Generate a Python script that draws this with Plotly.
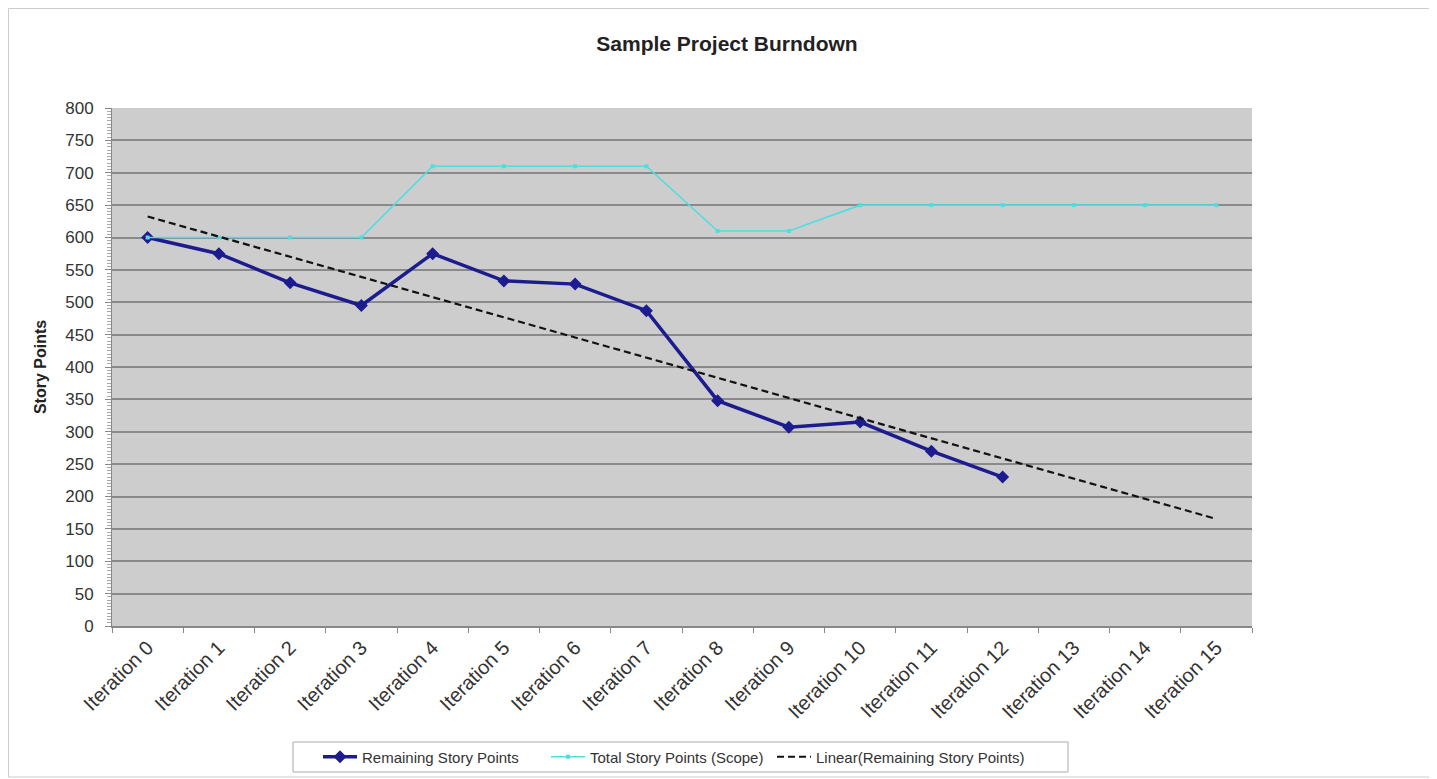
import numpy as np
import plotly.graph_objects as go

categories = [f"Iteration {i}" for i in range(16)]
remaining = [600, 575, 530, 495, 575, 533, 528, 487, 348, 307, 315, 270, 230]
total_scope = [600, 600, 600, 600, 710, 710, 710, 710, 610, 610, 650, 650, 650, 650, 650, 650]
y_ticks = list(range(0, 801, 50))

# linear trendline of remaining story points, extended to all iterations
xi = np.arange(len(remaining))
slope, intercept = np.polyfit(xi, remaining, 1)
trend = [intercept + slope * i for i in range(len(categories))]

W, H = 1429, 771
L, T, PW, PH = 104, 100, 1140, 518
OFF = 8  # page body margin


def px_x(ax):
    return (ax - OFF - L) / PW


def px_y(ay):
    return (T + PH - (ay - OFF)) / PH


fig = go.Figure()
fig.add_trace(go.Scatter(
    x=categories[:len(remaining)], y=remaining, mode="lines+markers",
    name="Remaining Story Points", legend="legend",
    line=dict(color="#1c1c8f", width=3.5),
    marker=dict(symbol="diamond", size=10, color="#1c1c8f"),
))
fig.add_trace(go.Scatter(
    x=categories, y=total_scope, mode="lines+markers",
    name="Total Story Points (Scope)", legend="legend2",
    line=dict(color="#4fdede", width=1.6),
    marker=dict(symbol="square", size=4, color="#4fdede"),
))
fig.add_trace(go.Scatter(
    x=categories, y=trend, mode="lines",
    name="Linear(Remaining Story Points)", legend="legend3",
    line=dict(color="#111111", width=2.2, dash="7px,4px"),
))

leg_common = dict(orientation="h", xanchor="left",
                  yref="container", y=1 - (757 - OFF) / H, yanchor="middle",
                  bgcolor="rgba(0,0,0,0)", borderwidth=0,
                  font=dict(size=15, color="#333333"), itemwidth=34)

fig.update_layout(
    width=W, height=H,
    margin=dict(l=L, r=W - L - PW, t=T, b=H - T - PH),
    paper_bgcolor="white",
    plot_bgcolor="#cdcdcd",
    font=dict(family="Arial, Liberation Sans, sans-serif", color="#333333"),
    title=dict(text="<b>Sample Project Burndown</b>", x=px_x(727), xanchor="center",
               xref="paper", y=1 - 36 / H, yanchor="middle",
               font=dict(size=21, color="#222222")),
    showlegend=True,
    legend=dict(x=px_x(318), **leg_common),
    legend2=dict(x=px_x(546), **leg_common),
    legend3=dict(x=px_x(772), **leg_common),
    shapes=[
        dict(type="rect", xref="paper", yref="paper",
             x0=-(L - 0.5) / PW, x1=(W - L + 10) / PW,
             y0=-(769 - T - PH) / PH, y1=1 + (T - 0.5) / PH,
             line=dict(color="#cccccc", width=1), layer="below"),
        dict(type="rect", xref="paper", yref="paper",
             x0=px_x(293), x1=px_x(1068), y0=px_y(772), y1=px_y(742),
             line=dict(color="#aaaaaa", width=1), fillcolor="white", layer="below"),
    ],
)

fig.update_xaxes(
    type="category", categoryorder="array", categoryarray=categories,
    range=[-0.5, 15.5], tickangle=-45, tickson="boundaries",
    ticks="outside", ticklen=5, tickcolor="#888888",
    showgrid=False, showline=True, linecolor="#888888", linewidth=2,
    tickfont=dict(size=20, color="#333333"), automargin=False,
)
fig.update_yaxes(
    range=[0, 800], tickvals=y_ticks, ticks="outside", ticklen=6, tickcolor="#888888",
    ticklabelstandoff=8,
    showgrid=True, gridcolor="#8a8a8a", gridwidth=2,
    showline=True, linecolor="#888888", linewidth=1, zeroline=False,
    tickfont=dict(size=17, color="#333333"), automargin=False,
    minor=dict(ticks="outside", ticklen=4, dtick=5, tickcolor="#aaaaaa", showgrid=False),
    title=dict(text="<b>Story Points</b>", font=dict(size=16, color="#222222"), standoff=14),
)

fig.write_html("out.html")
